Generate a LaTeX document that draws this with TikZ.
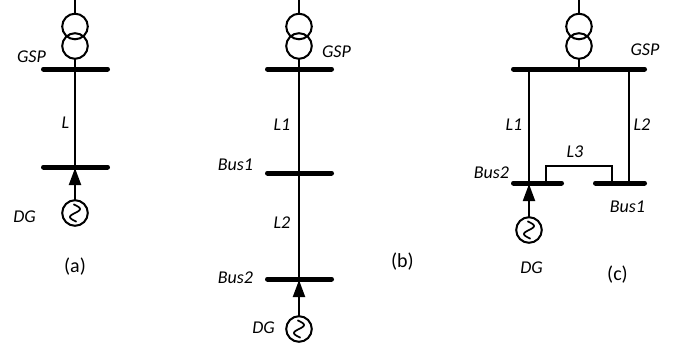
\documentclass[tikz,border=0pt]{standalone}
\usepackage{fontspec}
\setmainfont{Carlito}
\usetikzlibrary{arrows.meta}
\begin{document}
\begin{tikzpicture}[x=1pt,y=-1pt,
 bus/.style={line width=5pt,line cap=round},
 wire/.style={line width=2pt},
 lbl/.style={font=\fontsize{18}{20}\selectfont\itshape,anchor=base,inner sep=0pt},
 capt/.style={font=\fontsize{20}{22}\selectfont,anchor=base,inner sep=0pt},
 arr/.style={wire,-{Triangle[length=17pt,width=12pt]}},
 pics/xfmr/.style={code={
   \draw[wire] (0,0) -- (0,13);
   \draw[wire] (0,26.5) circle (12.8);
   \draw[wire] (0,46) circle (12.8);
   \draw[wire] (0,58.8) -- (0,69);}},
 pics/gen/.style={code={
   \draw[wire] (0,0) circle (12.8);
   \draw[line width=1.7pt] plot[domain=-0.05:1.05,samples=40] ({5*sin(360*\x)},{-8+16*\x});}}]
\useasboundingbox (0,0) rectangle (685,343);
\fill[white] (0,0) rectangle (685,343);

% ---------- (a)
\pic at (75,0) {xfmr};
\coordinate (aG1) at (43.5,69); \coordinate (aG2) at (107.5,69);
\coordinate (aB1) at (43.5,167); \coordinate (aB2) at (107.5,167);
\coordinate (aGm) at (75,69); \coordinate (aBm) at (75,167);
\draw[bus] (aG1) -- (aG2);
\draw[bus] (aB1) -- (aB2);
\draw[wire] (aGm) -- (aBm);
\pic at (75,213) {gen};
\coordinate (aGt) at (75,200.2);
\draw[arr] (aGt) -- (75,168);
\node[lbl] (aGSP) at (31.5,62) {GSP};
\node[lbl] (aL) at (65.5,128) {L};
\node[lbl] (aDG) at (24.5,222) {DG};
\node[capt] (acap) at (75,272) {(a)};

% ---------- (b)
\pic at (299,0) {xfmr};
\coordinate (bG1) at (267.5,69); \coordinate (bG2) at (331.5,69);
\coordinate (b11) at (267.5,173); \coordinate (b12) at (331.5,173);
\coordinate (b21) at (267.5,279); \coordinate (b22) at (331.5,279);
\draw[bus] (bG1) -- (bG2);
\draw[bus] (b11) -- (b12);
\draw[bus] (b21) -- (b22);
\coordinate (bGm) at (299,69); \coordinate (b2m) at (299,279);
\draw[wire] (bGm) -- (b2m);
\pic at (299,329) {gen};
\coordinate (bGt) at (299,316.2);
\draw[arr] (bGt) -- (299,280);
\node[lbl] (bGSP) at (336.5,57) {GSP};
\node[lbl] (bL1) at (282,130) {L1};
\node[lbl] (bBus1) at (235.5,170) {Bus1};
\node[lbl] (bL2) at (282,228) {L2};
\node[lbl] (bBus2) at (235.5,283) {Bus2};
\node[lbl] (bDG) at (263.5,333) {DG};
\node[capt] (bcap) at (402.5,267) {(b)};

% ---------- (c)
\pic at (579,0) {xfmr};
\coordinate (cG1) at (513.5,69); \coordinate (cG2) at (644.5,69);
\coordinate (c21) at (513.5,183); \coordinate (c22) at (561.5,183);
\coordinate (c11) at (595.5,183); \coordinate (c12) at (644.5,183);
\draw[bus] (cG1) -- (cG2);
\draw[bus] (c21) -- (c22);
\draw[bus] (c11) -- (c12);
\coordinate (cL1t) at (529,69); \coordinate (cL1b) at (529,183);
\coordinate (cL2t) at (629,69); \coordinate (cL2b) at (629,183);
\draw[wire] (cL1t) -- (cL1b);
\draw[wire] (cL2t) -- (cL2b);
\coordinate (cL3a) at (546,183); \coordinate (cL3b) at (612,183);
\draw[wire] (cL3a) -- (546,166) -- (612,166) -- (cL3b);
\pic at (529,230) {gen};
\coordinate (cGt) at (529,217.2);
\draw[arr] (cGt) -- (529,184);
\node[lbl] (cGSP) at (645,55) {GSP};
\node[lbl] (cL1) at (514,130) {L1};
\node[lbl] (cL2) at (642,130) {L2};
\node[lbl] (cL3) at (575,157) {L3};
\node[lbl] (cBus2) at (491.5,178) {Bus2};
\node[lbl] (cBus1) at (627.5,212) {Bus1};
\node[lbl] (cDG) at (531.5,273) {DG};
\node[capt] (ccap) at (617.5,280) {(c)};
\end{tikzpicture}
\end{document}
